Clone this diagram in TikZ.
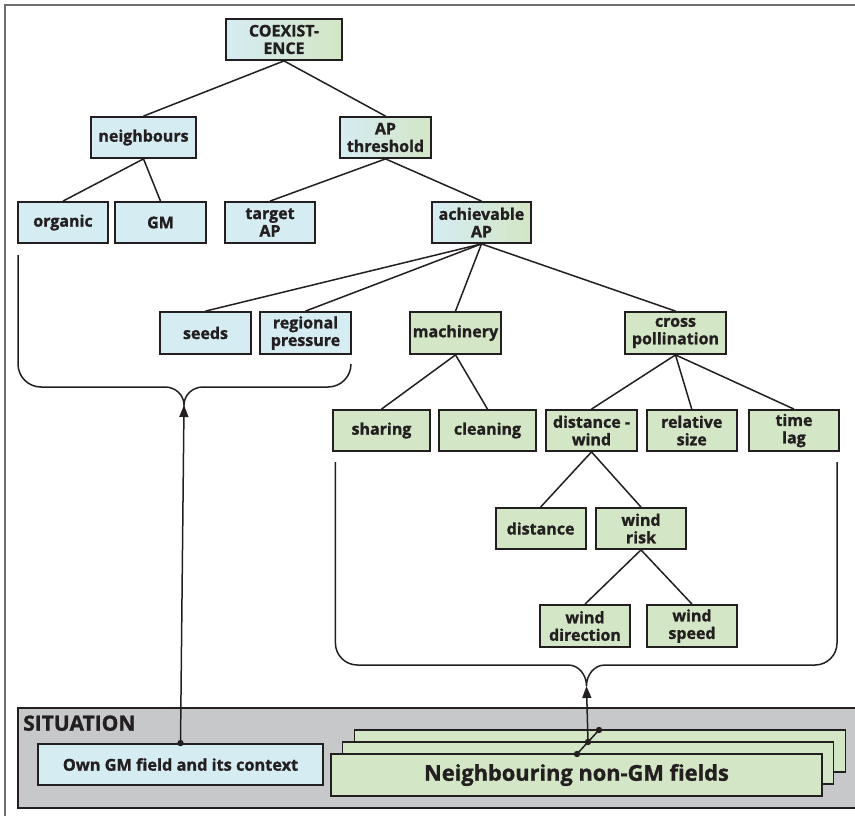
\documentclass[tikz,border=0pt]{standalone}
\usepackage{fontspec}
\setmainfont{Open Sans}[BoldFeatures={FakeBold=1.2}]
\newfontfamily\condfont{Open Sans}[BoldFeatures={FakeBold=1.2}]
\usetikzlibrary{arrows.meta}
\definecolor{blueC}{RGB}{213,236,243}
\definecolor{greenC}{RGB}{211,230,197}
\definecolor{grayC}{RGB}{199,200,202}
\definecolor{inkC}{RGB}{35,31,32}
\definecolor{frameC}{RGB}{110,110,110}
\tikzset{
  box/.style={draw=inkC, line width=1.8pt, minimum height=41pt, minimum width=90pt,
    inner sep=0pt, align=center, text=inkC,
    font=\bfseries\fontsize{16}{17.5}\selectfont},
  bluebox/.style={box, fill=blueC},
  greenbox/.style={box, fill=greenC},
  gradbox/.style={box, left color=blueC, right color=greenC},
  edge/.style={draw=inkC, line width=1.5pt},
  brace/.style={draw=inkC, line width=1.5pt},
  arrowline/.style={draw=inkC, line width=1.5pt, -{Triangle[length=12pt,width=9pt]}},
  dot/.style={fill=inkC},
  fieldbox/.style={draw=inkC, line width=1.8pt, fill=greenC, minimum width=491pt,
    minimum height=42pt, inner sep=0pt},
}
\begin{document}
\begin{tikzpicture}[x=1pt,y=-1pt]
\useasboundingbox (0,0) rectangle (855,816);
% outer frame (top and left edges only)
\draw[frameC, line width=2pt] (5,820) -- (5,5) -- (860,5);

% tree
\node[gradbox, minimum width=116pt] (coex) at (284,39.5) {COEXIST-\\ENCE};
\node[bluebox, minimum width=105pt] (neigh) at (143.5,137.5) {neighbours};
\node[gradbox, minimum width=91pt] (apth) at (385.5,137.5) {AP\\threshold};
\node[bluebox] (organic) at (63,222.5) {organic};
\node[bluebox, minimum width=91pt] (gm) at (160.5,222.5) {GM};
\node[bluebox] (target) at (270,222.5) {target\\AP};
\node[gradbox, minimum width=99pt] (achiev) at (481.5,222.5) {achievable\\AP};
\node[bluebox, minimum width=91pt, minimum height=42pt] (seeds) at (205.5,333) {seeds};
\node[bluebox, minimum width=91pt, minimum height=42pt] (regional) at (305.5,333) {regional\\pressure};
\node[greenbox, minimum width=91pt, minimum height=42pt] (mach) at (455.5,333) {machinery};
\node[greenbox, minimum width=101pt, minimum height=42pt] (cross) at (675.5,333) {cross\\pollination};
\node[greenbox, minimum width=97pt] (sharing) at (381.5,430.5) {sharing};
\node[greenbox, minimum width=97pt] (cleaning) at (487.5,430.5) {cleaning};
\node[greenbox, minimum width=91pt] (distwind) at (591.5,430.5) {distance -\\wind};
\node[greenbox] (relsize) at (691.75,430.5) {relative\\size};
\node[greenbox] (timelag) at (794,430.5) {time\\lag};
\node[greenbox] (distance) at (540.6,528.5) {distance};
\node[greenbox] (windrisk) at (641,528.5) {wind\\risk};
\node[greenbox, minimum height=42pt] (winddir) at (585,626) {wind\\direction};
\node[greenbox, minimum height=42pt] (windspeed) at (692,626) {wind\\speed};

\draw[edge] (coex.south) -- (neigh.north);
\draw[edge] (coex.south) -- (apth.north);
\draw[edge] (neigh.south) -- (organic.north);
\draw[edge] (neigh.south) -- (gm.north);
\draw[edge] (apth.south) -- (target.north);
\draw[edge] (apth.south) -- (achiev.north);
\draw[edge] (achiev.south) -- (seeds.north);
\draw[edge] (achiev.south) -- (regional.north);
\draw[edge] (achiev.south) -- (mach.north);
\draw[edge] (achiev.south) -- (cross.north);
\draw[edge] (mach.south) -- (sharing.north);
\draw[edge] (mach.south) -- (cleaning.north);
\draw[edge] (cross.south) -- (distwind.north);
\draw[edge] (cross.south) -- (relsize.north);
\draw[edge] (cross.south) -- (timelag.north);
\draw[edge] (distwind.south) -- (distance.north);
\draw[edge] (distwind.south) -- (windrisk.north);
\draw[edge] (windrisk.south) -- (winddir.north);
\draw[edge] (windrisk.south) -- (windspeed.north);

% braces
\coordinate (lbtip) at (184,405);
\coordinate (rbtip) at (586.5,686);
\draw[brace] (18,255) -- (18,364) to[out=-90,in=180] (41,387) -- (165,387)
  to[out=0,in=90] (lbtip) to[out=90,in=180] (203,387) -- (328,387)
  to[out=0,in=-90] (351,364);
\draw[brace] (335.4,462) -- (335.4,643) to[out=-90,in=180] (357.4,665) -- (568,665)
  to[out=0,in=90] (rbtip) to[out=90,in=180] (605,665) -- (815,665)
  to[out=0,in=-90] (837,643) -- (837,462);

% situation
\node[draw=inkC, line width=1.8pt, fill=grayC, minimum width=850pt, minimum height=100pt,
  inner sep=0pt] (sit) at (443,758) {};
\node[anchor=base west, inner sep=0pt, text=inkC,
  font=\condfont\bfseries\fontsize{21}{22}\selectfont] (sitlabel) at (23,730.7) {SITUATION};
\node[bluebox, minimum width=285pt, font=\condfont\bfseries\fontsize{16.3}{17}\selectfont]
  (own) at (180.5,764.5) {Own GM field and its context};
\node[fieldbox] (fback) at (600,751) {};
\node[fieldbox] (fmid) at (588,763) {};
\node[fieldbox, text=inkC, font=\condfont\bfseries\fontsize{21.8}{23}\selectfont]
  (ffront) at (576.5,775) {Neighbouring non-GM fields};

\coordinate (d1) at (577,754);
\coordinate (d2) at (588,742);
\coordinate (d3) at (599,730);
\draw[edge] (d1) -- (d3);
\fill[dot] (d1) circle (3.2pt) (d2) circle (3.2pt) (d3) circle (3.2pt);
\draw[arrowline] (d2) -- (rbtip);

\fill[dot] (own.north) circle (3.2pt);
\draw[arrowline] (own.north) -- (lbtip);
\end{tikzpicture}
\end{document}
